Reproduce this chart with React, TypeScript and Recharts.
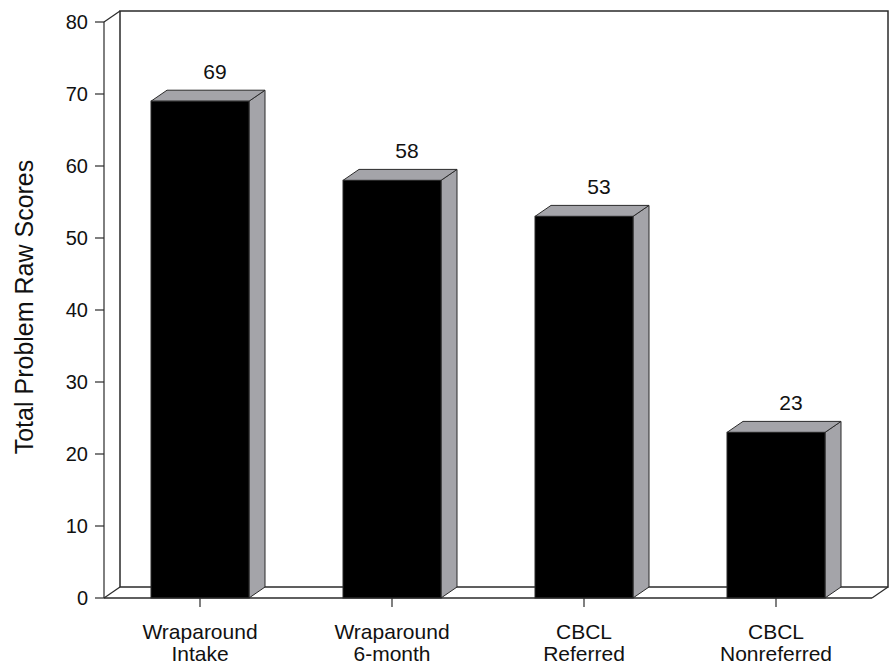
import { BarChart, Bar, XAxis, YAxis, ReferenceArea, LabelList, Label } from 'recharts';

const categories = ['Wraparound\nIntake', 'Wraparound\n6-month', 'CBCL\nReferred', 'CBCL\nNonreferred'];
const scores = [69, 58, 53, 23];
const yTicks = [0, 10, 20, 30, 40, 50, 60, 70, 80];

const data = categories.map((name, i) => ({ name, score: scores[i] }));

const FONT = '"Liberation Sans", Arial, sans-serif';
const INK = '#111';
const SIDE = '#a4a4a9';
const EDGE = '#2a2a2a';
const DX = 16;
const DY = 11;

// back wall + floor of the 3D box, drawn from the plot rect
const BackWall = (props: any) => {
  const { x, y, width, height } = props;
  const bx = x + DX;
  const by = y - DY;
  return (
    <g>
      <rect x={bx} y={by} width={width} height={height} fill="#fff" stroke={EDGE} strokeWidth={1.5} />
      <line x1={x} y1={y} x2={bx} y2={by} stroke={EDGE} strokeWidth={1.2} />
      <line x1={x} y1={y + height} x2={bx} y2={by + height} stroke={EDGE} strokeWidth={1.2} />
      <line x1={x + width} y1={y + height} x2={bx + width} y2={by + height} stroke={EDGE} strokeWidth={1.2} />
      <line x1={x} y1={y + height} x2={x + width} y2={y + height} stroke={EDGE} strokeWidth={1.2} />
    </g>
  );
};

const Bar3D = (props: any) => {
  const { x, y, width, height } = props;
  if (!height) return null;
  const top = `${x},${y} ${x + DX},${y - DY} ${x + width + DX},${y - DY} ${x + width},${y}`;
  const side = `${x + width},${y} ${x + width + DX},${y - DY} ${x + width + DX},${y + height - DY} ${x + width},${y + height}`;
  return (
    <g>
      <polygon points={side} fill={SIDE} stroke={EDGE} strokeWidth={1} />
      <polygon points={top} fill={SIDE} stroke={EDGE} strokeWidth={1} />
      <rect x={x} y={y} width={width} height={height} fill="#000" stroke={EDGE} strokeWidth={1} />
    </g>
  );
};

const ValueLabel = (props: any) => {
  const { x, y, width, value } = props;
  return (
    <text x={x + width / 2 + DX - 1} y={y - 22} textAnchor="middle" fontFamily={FONT} fontSize={21} fill={INK}>
      {value}
    </text>
  );
};

const CategoryTick = (props: any) => {
  const { x, y, payload } = props;
  const lines = String(payload.value).split('\n');
  return (
    <text x={x} y={y} textAnchor="middle" fontFamily={FONT} fontSize={21} fill={INK}>
      {lines.map((l, i) => (
        <tspan key={i} x={x} dy={i === 0 ? 32 : 22}>
          {l}
        </tspan>
      ))}
    </text>
  );
};

export default function App() {
  return (
    <div style={{ position: 'absolute', left: 0, top: 0, width: 891, height: 666, background: '#fff' }}>
      <BarChart width={891} height={666} data={data} margin={{ top: 22, right: 19, left: 0, bottom: 0 }}>
        <ReferenceArea y1={0} y2={80} shape={BackWall} ifOverflow="visible" />
        <XAxis
          dataKey="name"
          interval={0}
          height={68}
          tickSize={9}
          tickMargin={0}
          axisLine={{ stroke: EDGE, strokeWidth: 1.2 }}
          tickLine={{ stroke: EDGE, strokeWidth: 1.2 }}
          tick={<CategoryTick />}
        />
        <YAxis
          width={104}
          domain={[0, 80]}
          ticks={yTicks}
          interval={0}
          tickSize={9}
          tickMargin={7}
          axisLine={{ stroke: EDGE, strokeWidth: 1.2 }}
          tickLine={{ stroke: EDGE, strokeWidth: 1.2 }}
          tick={{ fontFamily: FONT, fontSize: 20, fill: INK }}
        >
          <Label
            content={({ viewBox }: any) => {
              const cx = viewBox.x + 33;
              const cy = viewBox.y + viewBox.height / 2 - 3;
              return (
                <text
                  x={cx}
                  y={cy}
                  transform={`rotate(-90, ${cx}, ${cy})`}
                  textAnchor="middle"
                  fontFamily={FONT}
                  fontSize={25}
                  fill={INK}
                >
                  Total Problem Raw Scores
                </text>
              );
            }}
          />
        </YAxis>
        <Bar dataKey="score" barSize={98} shape={Bar3D} isAnimationActive={false}>
          <LabelList dataKey="score" content={ValueLabel} />
        </Bar>
      </BarChart>
    </div>
  );
}
